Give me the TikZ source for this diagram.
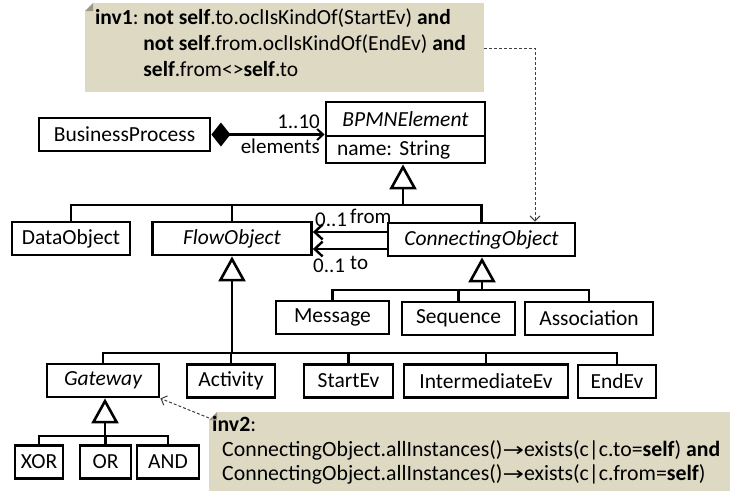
\documentclass[tikz,border=0pt]{standalone}
\usepackage{fontspec}
\setmainfont{Carlito}
\newfontfamily\arrowfont{DejaVu Sans}
\usetikzlibrary{arrows.meta}
\definecolor{notefill}{RGB}{221,217,195}
\newcommand{\ocltr}{{\arrowfont\fontsize{19}{20}\selectfont\scalebox{1.35}[1]{→}}}
\frenchspacing

\begin{document}
\begin{tikzpicture}[x=1pt, y=-1pt,
  cls/.style={draw, line width=2.8pt, inner sep=0pt, minimum height=33pt,
    font=\fontsize{21.5}{24}\selectfont},
  abscls/.style={cls, font=\fontsize{21.5}{24}\selectfont\itshape},
  assoc/.style={line width=2.6pt},
  gen/.style={line width=2.6pt, -{Triangle[open, length=25pt, width=27pt, line width=2.6pt]}},
  nav/.style={line width=2.4pt, -{Straight Barb[length=8pt, width=15pt, line width=2.4pt]}},
  notebox/.style={fill=notefill, anchor=north west, inner sep=0pt},
  notetext/.style={anchor=north west, align=left, inner sep=0pt,
    font=\fontsize{21.5}{26}\selectfont},
  dep/.style={line width=1pt, dash pattern=on 3pt off 2pt, draw=black!75,
    -{Straight Barb[length=5pt, width=10pt, line width=1pt]}},
  lbl/.style={inner sep=0pt, font=\fontsize{21}{24}\selectfont}]
\useasboundingbox (0,0) rectangle (730,491);

% constraint notes
\node[notebox, minimum width=399pt, minimum height=89pt] (inv1) at (85,3) {};
\fill[white] (85,3) -- (93,3) -- (85,11) -- cycle;
\fill[notefill!70!black] (93,3) -- (85,11) -- (93,11) -- cycle;
\node[notetext] (inv1txt) at (95,9) {\textbf{inv1}: \textbf{not self}.to.oclIsKindOf(StartEv) \textbf{and}\\
  \phantom{\textbf{inv1}: }\textbf{not self}.from.oclIsKindOf(EndEv) \textbf{and}\\
  \phantom{\textbf{inv1}: }\textbf{self}.from<>\textbf{self}.to};

\node[notebox, minimum width=521pt, minimum height=79pt] (inv2) at (209,412) {};
\fill[white] (209,412) -- (217,412) -- (209,420) -- cycle;
\fill[notefill!70!black] (217,412) -- (209,420) -- (217,420) -- cycle;
\node[notetext, font=\fontsize{21.8}{24.5}\selectfont] (inv2txt) at (212,416) {\textbf{inv2}:\\
  \hspace{10pt}ConnectingObject.allInstances()\ocltr exists(c|c.to=\textbf{self}) \textbf{and}\\
  \hspace{10pt}ConnectingObject.allInstances()\ocltr exists(c|c.from=\textbf{self})};

% classes
\node[cls, minimum width=171pt] (bp) at (124.5,134.5) {BusinessProcess};
\node[abscls, minimum width=159pt, minimum height=34pt] (bpmn) at (405.5,119) {BPMNElement};
\node[cls, minimum width=159pt, minimum height=27pt, text width=137pt, inner xsep=11pt,
  align=left] (bpmnattr) at (405.5,149.5) {name: String};

\node[cls, minimum width=118pt] (data) at (71,238.5) {DataObject};
\node[abscls, minimum width=159pt] (flow) at (232,238.5) {FlowObject};
\node[abscls, minimum width=187pt] (conn) at (481.5,239.5) {ConnectingObject};

\node[cls, minimum width=113pt] (msg) at (332.5,317.5) {Message};
\node[cls, minimum width=113pt] (seq) at (458.5,318.5) {Sequence};
\node[cls, minimum width=128pt] (assn) at (589,318.5) {Association};

\node[abscls, minimum width=112pt] (gw) at (103,380.5) {Gateway};
\node[cls, minimum width=88pt] (act) at (231,381) {Activity};
\node[cls, minimum width=89pt] (start) at (348.5,381) {StartEv};
\node[cls, minimum width=164pt] (inter) at (486,381) {IntermediateEv};
\node[cls, minimum width=78pt] (endev) at (617,381.5) {EndEv};

\node[cls, minimum width=48pt] (xor) at (39,462) {XOR};
\node[cls, minimum width=51pt] (or) at (105.5,462) {OR};
\node[cls, minimum width=62pt] (and) at (168,462) {AND};

% composition
\draw[assoc, {Diamond[length=19pt, width=24pt]}-{Straight Barb[length=6pt, width=11pt, line width=2pt]}]
  (bp.east) -- (bpmn.south west |- bp.east);
\node[lbl, anchor=base east] (mult1) at (320,128) {1..10};
\node[lbl, anchor=base east] (role1) at (320,153) {elements};

% generalisations
\coordinate (bus1) at (403,205);
\draw[assoc] (data.north) |- (bus1) -| (conn.north);
\draw[assoc] (flow.north) -- (flow.north |- bus1);
\draw[gen] (bus1) -- (bpmnattr.south -| bus1);

\coordinate (bus2) at (482,290);
\draw[assoc] (msg.north) |- (bus2) -| (assn.north);
\draw[assoc] (seq.north) -- (seq.north |- bus2);
\draw[gen] (bus2) -- (conn.south -| bus2);

\coordinate (bus3) at (232,353);
\draw[assoc] (gw.north) |- (bus3) -| (endev.north);
\draw[assoc] (act.north) -- (act.north |- bus3);
\draw[assoc] (start.north) -- (start.north |- bus3);
\draw[assoc] (inter.north) -- (inter.north |- bus3);
\draw[gen] (bus3) -- (flow.south -| bus3);

\coordinate (bus4) at (105,436);
\draw[assoc] (xor.north) |- (bus4) -| (and.north);
\draw[assoc] (or.north) -- (or.north |- bus4);
\draw[gen] (bus4) -- (gw.south -| bus4);

% navigable ends
\draw[nav] (conn.west |- 0,232) -- (flow.east |- 0,232);
\draw[nav] (conn.west |- 0,249) -- (flow.east |- 0,249);
\node[lbl, anchor=base west] (multfrom) at (315,226) {0..1};
\node[lbl, anchor=base west] (rolefrom) at (350,223) {from};
\node[lbl, anchor=base west] (multto) at (313,272) {0..1};
\node[lbl, anchor=base west] (roleto) at (350,269) {to};

% constraint anchors
\draw[dep] (inv1.east |- 0,48) -| (conn.north -| 535,0);
\draw[dep] (inv2.north west) ++(0,6) -- (gw.south east);
\end{tikzpicture}
\end{document}
